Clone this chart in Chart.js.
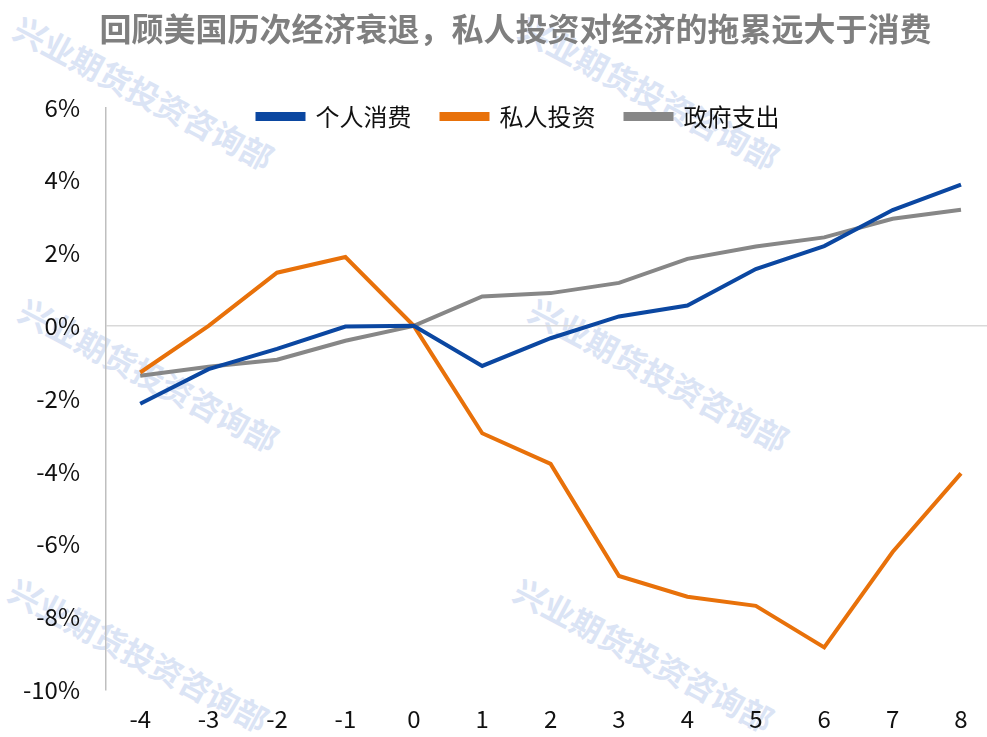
<!DOCTYPE html>
<html>
<head>
<meta charset="utf-8">
<script src="https://cdn.jsdelivr.net/npm/chart.js@4"></script>
<style>
  body { margin: 0; background: #fff; }
  .wrap { position: relative; width: 987px; height: 737px; overflow: hidden; }
  .mark {
    position: absolute;
    font: bold 32px "Noto Sans CJK SC";
    color: #dbe4f5;
    white-space: nowrap;
    transform: rotate(28deg);
    transform-origin: left top;
  }
  canvas { position: absolute; left: 0; top: 0; }
</style>
</head>
<body>
<div class="wrap">
  <div class="mark" style="left:28px;top:4px">兴业期货投资咨询部</div>
  <div class="mark" style="left:533px;top:4px">兴业期货投资咨询部</div>
  <div class="mark" style="left:33px;top:286px">兴业期货投资咨询部</div>
  <div class="mark" style="left:543px;top:286px">兴业期货投资咨询部</div>
  <div class="mark" style="left:23px;top:566px">兴业期货投资咨询部</div>
  <div class="mark" style="left:528px;top:566px">兴业期货投资咨询部</div>
  <canvas id="chart" width="987" height="737"></canvas>
</div>
<script>
const xLabels = [-4, -3, -2, -1, 0, 1, 2, 3, 4, 5, 6, 7, 8];
const consumption = [-2.14, -1.19, -0.63, -0.02, 0, -1.1, -0.34, 0.26, 0.56, 1.56, 2.19, 3.18, 3.88];
const investment = [-1.28, 0, 1.46, 1.89, 0, -2.95, -3.79, -6.87, -7.44, -7.69, -8.83, -6.21, -4.05];
const government = [-1.37, -1.12, -0.93, -0.41, 0, 0.81, 0.9, 1.18, 1.84, 2.18, 2.43, 2.94, 3.19];
const seriesNames = ["个人消费", "私人投资", "政府支出"];
const yTicks = [-10, -8, -6, -4, -2, 0, 2, 4, 6];

const font = "Noto Sans CJK SC";

const toPoints = (vals) => vals.map((v, i) => ({ x: xLabels[i], y: v }));

// title and legend sit a little right of the canvas centre,
// and the legend hangs down into the top of the plot
const boxShift = {
  id: "boxShift",
  afterLayout(chart) {
    chart.titleBlock.left += 44;
    const l = chart.legend;
    l.left += 25; l.right += 25;
    l.top += 26; l.bottom += 26;
  }
};

const makeSet = (label, data, color) => ({
  label: label,
  data: toPoints(data),
  borderColor: color,
  backgroundColor: color,
  borderWidth: 4,
  pointRadius: 0,
  tension: 0
});

const ctx = document.getElementById("chart").getContext("2d");
new Chart(ctx, {
  type: "line",
  data: {
    datasets: [
      makeSet(seriesNames[0], consumption, "#0b47a1"),
      makeSet(seriesNames[1], investment, "#e8710a"),
      makeSet(seriesNames[2], government, "#878787")
    ]
  },
  options: {
    responsive: false,
    animation: false,
    devicePixelRatio: 1,
    layout: { padding: 0 },
    plugins: {
      title: {
        display: true,
        text: "回顾美国历次经济衰退，私人投资对经济的拖累远大于消费",
        color: "#7f7f7f",
        font: { family: font, size: 32, weight: "bold" },
        padding: { top: 10, bottom: 0 }
      },
      legend: {
        position: "top",
        maxHeight: 59,
        labels: {
          boxWidth: 46,
          boxHeight: 5,
          padding: 30,
          color: "#111",
          font: { family: font, size: 24 }
        }
      },
      tooltip: { enabled: false }
    },
    scales: {
      x: {
        type: "linear",
        min: -4.5,
        max: 8.38,
        afterBuildTicks: (axis) => { axis.ticks = xLabels.map(v => ({ value: v })); },
        afterFit: (axis) => { axis.height = 47; },
        grid: { display: false, drawTicks: false },
        border: { display: false },
        ticks: {
          padding: 14,
          color: "#111",
          font: { family: font, size: 24 },
          callback: (v) => String(v)
        }
      },
      y: {
        min: -10,
        max: 6,
        afterBuildTicks: (axis) => { axis.ticks = yTicks.map(v => ({ value: v })); },
        afterFit: (axis) => { axis.width = 106; },
        grid: {
          drawTicks: false,
          color: (c) => (c.tick && c.tick.value === 0 ? "#d9d9d9" : "rgba(0,0,0,0)"),
          lineWidth: 1.5
        },
        border: { display: true, color: "#bfbfbf", width: 1.5 },
        ticks: {
          padding: 26,
          color: "#111",
          font: { family: font, size: 24 },
          callback: (v) => v + "%"
        }
      }
    }
  },
  plugins: [boxShift]
});
</script>
</body>
</html>
